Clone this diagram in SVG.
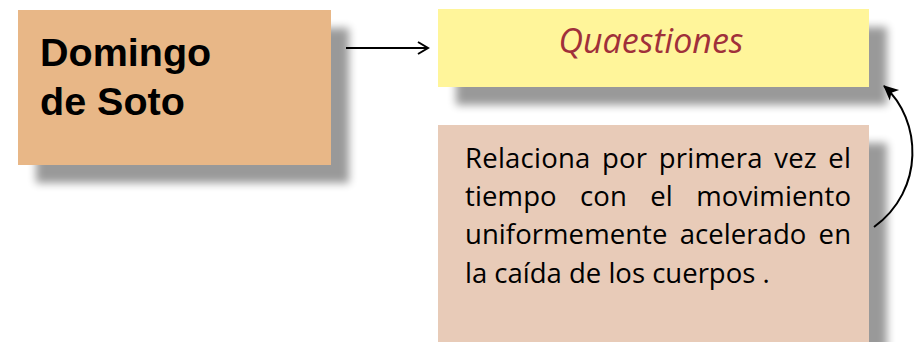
<svg xmlns="http://www.w3.org/2000/svg" width="921" height="342" viewBox="0 0 921 342">
<defs>
<filter id="sh" x="-20%" y="-30%" width="150%" height="180%">
<feGaussianBlur in="SourceAlpha" stdDeviation="4"/>
<feOffset dx="18" dy="18" result="b"/>
<feComponentTransfer><feFuncA type="linear" slope="0.4"/></feComponentTransfer>
<feMerge><feMergeNode/><feMergeNode in="SourceGraphic"/></feMerge>
</filter>
<marker id="open" markerWidth="14" markerHeight="14" refX="12" refY="7" orient="auto" markerUnits="userSpaceOnUse">
<path d="M2,1 L12,7 L2,13" fill="none" stroke="#000" stroke-width="2"/>
</marker>
<marker id="solid" markerWidth="16" markerHeight="16" refX="14" refY="8" orient="auto" markerUnits="userSpaceOnUse">
<path d="M0,1 L15,8 L0,15 L4,8 Z" fill="#000"/>
</marker>
</defs>
<style>
.t{font-family:"Open Sans","Noto Sans",sans-serif;font-size:27.5px;fill:#000}
.h{font-family:"Liberation Sans",Arial,sans-serif;font-weight:bold;font-size:39.5px;fill:#000}
</style>
<g id="domingo">
<rect x="18" y="10" width="313" height="155" fill="#E8B787" filter="url(#sh)"/>
<text class="h" x="40" y="66">Domingo</text>
<text class="h" x="40" y="115">de Soto</text>
</g>
<g id="quaestiones">
<rect x="438" y="9" width="431" height="78" fill="#FFF59A" filter="url(#sh)"/>
<text x="651" y="53" text-anchor="middle" font-family="Open Sans, Noto Sans, sans-serif" font-style="italic" font-size="34" fill="#A0303A">Quaestiones</text>
</g>
<g id="relaciona">
<rect x="438" y="125" width="431" height="240" fill="#E8CBB8" filter="url(#sh)"/>
<text class="t" x="465" y="168" word-spacing="4" textLength="386" lengthAdjust="spacing">Relaciona por primera vez el</text>
<text class="t" x="465" y="206" word-spacing="16" textLength="386" lengthAdjust="spacing">tiempo con el movimiento</text>
<text class="t" x="465" y="244" word-spacing="5" textLength="386" lengthAdjust="spacing">uniformemente acelerado en</text>
<text class="t" x="465" y="283">la caída de los cuerpos .</text>
</g>
<g id="connectors" fill="none" stroke="#000" stroke-width="2">
<path d="M346,48 L428,48" marker-end="url(#open)"/>
<path d="M874,227 C925,190 922,120 884,86" marker-end="url(#solid)"/>
</g>
</svg>
